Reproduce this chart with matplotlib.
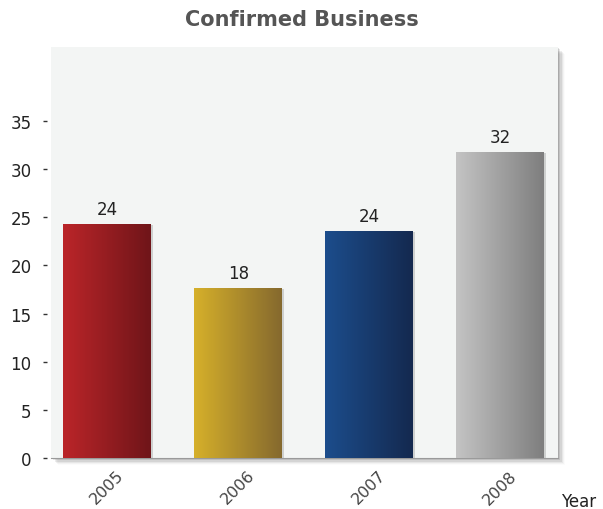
import matplotlib
matplotlib.use("Agg")
import matplotlib.pyplot as plt
import numpy as np
from matplotlib.colors import LinearSegmentedColormap
from matplotlib.patches import Rectangle
from matplotlib.transforms import ScaledTranslation

years = ["2005", "2006", "2007", "2008"]
business = [24.3, 17.7, 23.6, 31.8]
bar_colors = [("#bb2529", "#6f1519"), ("#d6b02a", "#85692e"),
              ("#1c4d8c", "#14294f"), ("#c4c4c4", "#7e7e7e")]

plt.rcParams["font.family"] = ["DejaVu Sans"]
fig = plt.figure(figsize=(6.03, 5.10), dpi=100)
ax = fig.add_axes([51 / 603, 1 - 459 / 510, 507 / 603, 411 / 510])
ax.set_facecolor("#f3f5f4")

x = np.arange(len(years))
width = 0.67

# soft drop shadow along right and bottom of the plot area
for i, a in enumerate([0.12, 0.09, 0.07, 0.05, 0.03, 0.015]):
    off = (i + 1) * 1.2
    fig.patches.append(Rectangle((51 / 603 + off / 603, 1 - 459 / 510 - off / 510),
                                 507 / 603, 411 / 510, transform=fig.transFigure,
                                 facecolor="black", alpha=a, zorder=-5 + i * 0.01,
                                 edgecolor="none"))

bars = ax.bar(x, business, width=width, color="none", zorder=3)
grad = np.linspace(0, 1, 256).reshape(1, -1)
for bar, (c0, c1), v in zip(bars, bar_colors, business):
    x0, w, h = bar.get_x(), bar.get_width(), bar.get_height()
    cmap = LinearSegmentedColormap.from_list("g", [c0, c1])
    # faint shadow behind each bar
    ax.add_patch(Rectangle((x0 + 0.012, 0), w, h - 0.1, facecolor="black",
                           alpha=0.15, edgecolor="none", zorder=2))
    im = ax.imshow(grad, cmap=cmap, aspect="auto", extent=(x0, x0 + w, 0, h),
                   zorder=3)
    im.set_clip_path(bar)
    ax.text(x0 + w / 2, h + 0.6, f"{v:.0f}", ha="center", va="bottom",
            fontsize=12, color="#222222")

ax.set_xlim(-0.43, 3.44)
ax.set_ylim(0, 42.7)
ax.set_yticks(range(0, 40, 5))
ax.set_xticks(x)
ax.set_xticklabels(years, rotation=45, ha="right", rotation_mode="anchor")
ax.spines["left"].set_position(("outward", 3))
ax.tick_params(axis="y", length=3, width=1, color="#333333", labelsize=12,
               labelcolor="#222222", pad=8)
ax.tick_params(axis="x", length=0, labelsize=11.5, labelcolor="#444444", pad=6)
for tl in ax.get_xticklabels():
    tl.set_transform(tl.get_transform() + ScaledTranslation(9 / 100, -1 / 100, fig.dpi_scale_trans))
for s in ["top", "right", "left"]:
    ax.spines[s].set_visible(False)
ax.spines["bottom"].set_color("#9a9a9a")

fig.text(0.5, 1 - 20 / 510, "Confirmed Business", ha="center", va="center",
         fontsize=15, fontweight="bold", color="#555555")
fig.text(579 / 603, 1 - 502 / 510, "Year", ha="center", va="center",
         fontsize=12, color="#222222")

fig.savefig("out.png", dpi=100)
